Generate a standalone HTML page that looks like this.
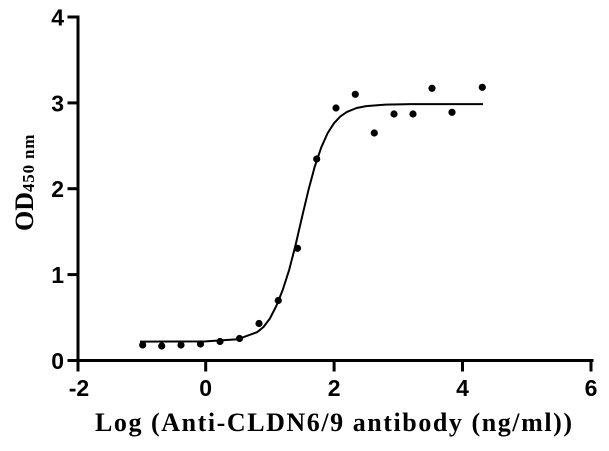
<!DOCTYPE html>
<html>
<head>
<meta charset="utf-8">
<style>
  html, body { margin:0; padding:0; background:#ffffff; }
  svg { display:block; }
</style>
</head>
<body>
<svg width="609" height="451" viewBox="0 0 609 451" xmlns="http://www.w3.org/2000/svg">
  <rect width="609" height="451" fill="#ffffff"/>

  <!-- axes -->
  <g stroke="#000" stroke-width="3" fill="none" stroke-linecap="square">
    <line x1="78" y1="17" x2="78" y2="370"/>
    <line x1="78" y1="360.5" x2="592" y2="360.5"/>
    <!-- y ticks -->
    <line x1="69" y1="17" x2="78" y2="17"/>
    <line x1="69" y1="102.9" x2="78" y2="102.9"/>
    <line x1="69" y1="188.7" x2="78" y2="188.7"/>
    <line x1="69" y1="274.6" x2="78" y2="274.6"/>
    <line x1="69" y1="360.5" x2="78" y2="360.5"/>
    <!-- x ticks -->
    <line x1="205.7" y1="360.5" x2="205.7" y2="370"/>
    <line x1="334.1" y1="360.5" x2="334.1" y2="370"/>
    <line x1="462.5" y1="360.5" x2="462.5" y2="370"/>
    <line x1="591" y1="360.5" x2="591" y2="370"/>
  </g>

  <!-- y tick labels -->
  <g font-family="Liberation Sans, Arial, sans-serif" font-weight="bold" font-size="23" fill="#000" text-anchor="end">
    <text x="64" y="25.5">4</text>
    <text x="64" y="111.3">3</text>
    <text x="64" y="197.1">2</text>
    <text x="64" y="283">1</text>
    <text x="64" y="368.8">0</text>
  </g>
  <!-- x tick labels -->
  <g font-family="Liberation Sans, Arial, sans-serif" font-weight="bold" font-size="23" fill="#000" text-anchor="middle">
    <text x="79" y="396">-2</text>
    <text x="205.7" y="396">0</text>
    <text x="334.1" y="396">2</text>
    <text x="462.5" y="396">4</text>
    <text x="591" y="396">6</text>
  </g>

  <!-- axis titles -->
  <text x="95" y="431" font-family="Liberation Serif, Times New Roman, serif" font-weight="bold" font-size="26" fill="#000" textLength="477" lengthAdjust="spacing">Log (Anti-CLDN6/9 antibody (ng/ml))</text>

  <text transform="translate(33,231) rotate(-90)" font-family="Liberation Serif, Times New Roman, serif" font-weight="bold" font-size="26" fill="#000">OD<tspan font-size="17" dy="1" letter-spacing="0.8">450 nm</tspan></text>

  <!-- fitted curve -->
  <path d="M140,341.6 L205.7,341.4 L237.8,339.2 L257.1,332.2 L263.5,327 L269.9,318.5 L276.3,306 L282.7,290 L289.2,269.8 L295.6,244.9 L302,217.2 L308.4,190.3 L314.8,166.4 L321.3,147.3 L327.7,133 L334.1,123.1 L340.5,116.3 L346.9,111.9 L356.6,108 L366.2,106.1 L385.5,104.6 L411.1,104.1 L483,104.1"
        fill="none" stroke="#000" stroke-width="2" stroke-linejoin="round"/>

  <!-- data points -->
  <g fill="#000">
    <circle cx="142.7" cy="345" r="3.6"/>
    <circle cx="161.7" cy="346" r="3.6"/>
    <circle cx="181" cy="345" r="3.6"/>
    <circle cx="200.5" cy="344" r="3.6"/>
    <circle cx="220" cy="341.5" r="3.6"/>
    <circle cx="239.5" cy="338.5" r="3.6"/>
    <circle cx="259" cy="323.5" r="3.6"/>
    <circle cx="278.3" cy="300.5" r="3.6"/>
    <circle cx="297.5" cy="248.3" r="3.6"/>
    <circle cx="316.7" cy="159" r="3.6"/>
    <circle cx="336" cy="108" r="3.6"/>
    <circle cx="355.3" cy="94.3" r="3.6"/>
    <circle cx="374.3" cy="133" r="3.6"/>
    <circle cx="394" cy="114" r="3.6"/>
    <circle cx="413" cy="114" r="3.6"/>
    <circle cx="432" cy="88.3" r="3.6"/>
    <circle cx="452" cy="112.3" r="3.6"/>
    <circle cx="482.3" cy="87.3" r="3.6"/>
  </g>
</svg>
</body>
</html>
